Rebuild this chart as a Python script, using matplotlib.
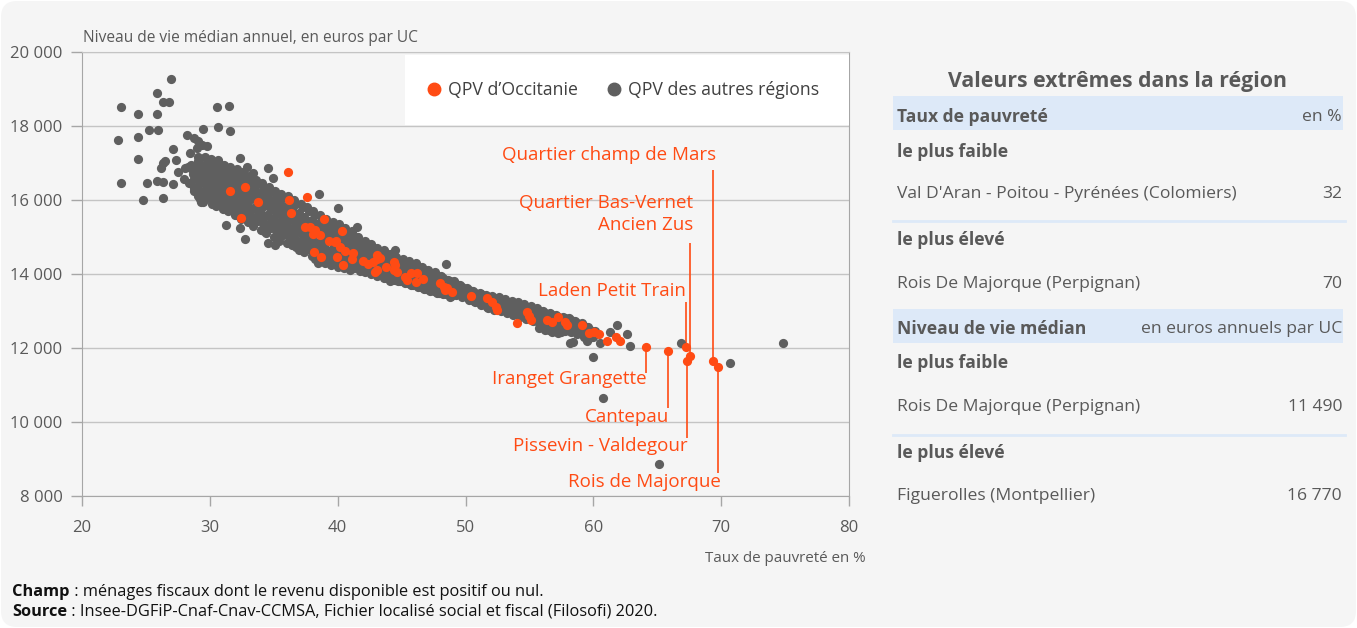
import matplotlib
matplotlib.use('Agg')
import matplotlib.pyplot as plt
from matplotlib.patches import FancyBboxPatch, Rectangle
from matplotlib.transforms import IdentityTransform
from matplotlib.lines import Line2D
from matplotlib.ticker import FuncFormatter

plt.rcParams['font.family'] = ['Open Sans', 'DejaVu Sans']

# QPV des autres regions (taux de pauvrete %, niveau de vie median)
gris = [
    # points isoles a gauche
    (23.05, 18520), (24.36, 18330), (22.84, 17620), (24.36, 17690), (24.36, 17100),
    (23.05, 16450), (24.75, 16000), (25.24, 17890), (25.97, 17890), (25.87, 18320),
    (25.87, 18900), (26.36, 18650), (26.78, 18650), (26.96, 19280), (25.06, 16460),
    (25.87, 16520), (26.36, 16480), (26.36, 16060), (27.14, 16430), (27.14, 17390),
    (27.35, 17080), (26.3, 17000), (26.5, 17050), (26.16, 16860), (27.49, 16770),
    (27.96, 16560), (28.19, 17760), (28.8, 17680), (29.1, 17600), (29.4, 17500),
    (29.75, 17450), (29.0, 17400), (29.47, 17910), (30.56, 18520), (31.47, 18550),
    (30.67, 17965), (31.55, 17860), (28.45, 17280), (29.1, 17170), (28.3, 16900),
    (28.6, 16830), (28.06, 16860), (30.67, 17080), (32.34, 17130), (32.94, 16890),
    (33.4, 16720), (34.55, 16860), (34.97, 16590), (38.57, 16150), (44.46, 14650),
    (40.06, 15780), (41.49, 15280), (31.29, 15320), (32.78, 14950), (32.36, 15230),
    (34.58, 14850), (35.1, 14780), (48.45, 14260), (58.2, 12140), (58.4, 12170),
    (60.0, 11770), (61.84, 12620), (62.6, 12370), (62.87, 12050), (61.3, 12420),
    (60.75, 10650), (60.5, 12140), (66.86, 12130), (70.7, 11585), (74.8, 12143),
    (65.1, 8864), (59.5, 12200),
    # nuage principal
    (28.5, 16950), (28.7, 16700), (28.4, 16450), (28.8, 16250),
    (29.1, 17050), (28.9, 16850), (29.2, 16600), (29.0, 16350), (29.1, 16100), (29.3, 15950),
    (29.6, 17150), (29.4, 16900), (29.7, 16700), (29.5, 16450), (29.6, 16200), (29.5, 15950),
    (30.1, 17100), (30.0, 16850), (30.2, 16600), (29.9, 16400), (30.1, 16150), (30.2, 15900),
    (30.6, 17000), (30.5, 16750), (30.7, 16500), (30.4, 16300), (30.6, 16050), (30.5, 15850),
    (31.1, 16950), (31.0, 16700), (31.2, 16450), (30.9, 16250), (31.1, 16000), (31.0, 15750),
    (31.6, 16900), (31.4, 16650), (31.7, 16400), (31.5, 16150), (31.6, 15900), (31.4, 15700),
    (32.1, 16850), (32.0, 16600), (32.2, 16350), (31.9, 16100), (32.1, 15850), (32.0, 15600),
    (32.6, 16750), (32.4, 16500), (32.7, 16250), (32.5, 16000), (32.6, 15750), (32.4, 15500),
    (33.1, 16650), (33.0, 16400), (33.2, 16150), (32.9, 15900), (33.1, 15650), (33.0, 15400),
    (33.6, 16550), (33.4, 16300), (33.7, 16050), (33.5, 15800), (33.6, 15550), (33.4, 15300),
    (34.1, 16450), (34.0, 16200), (34.2, 15950), (33.9, 15700), (34.1, 15450), (34.0, 15200),
    (34.6, 16350), (34.4, 16100), (34.7, 15850), (34.5, 15600), (34.6, 15350), (34.4, 15100),
    (35.1, 16250), (35.0, 16000), (35.2, 15750), (34.9, 15500), (35.1, 15250), (35.0, 15000),
    (35.6, 16150), (35.4, 15900), (35.7, 15650), (35.5, 15400), (35.6, 15150), (35.4, 14900),
    (36.1, 16100), (36.0, 15850), (36.2, 15600), (35.9, 15350), (36.1, 15100), (36.0, 14850),
    (36.6, 16000), (36.4, 15750), (36.7, 15500), (36.5, 15250), (36.6, 15000), (36.4, 14780),
    (37.1, 15900), (37.0, 15650), (37.2, 15400), (36.9, 15150), (37.1, 14900), (37.0, 14650),
    (37.6, 15800), (37.4, 15550), (37.7, 15300), (37.5, 15050), (37.6, 14800), (37.4, 14600),
    (38.1, 15700), (38.0, 15450), (38.2, 15200), (37.9, 14950), (38.1, 14700), (38.0, 14500),
    (38.6, 15600), (38.4, 15350), (38.7, 15100), (38.5, 14850), (38.6, 14600), (38.5, 14300),
    (39.1, 15500), (39.0, 15250), (39.2, 15000), (38.9, 14750), (39.1, 14500), (39.0, 14300),
    (39.6, 15400), (39.4, 15150), (39.7, 14900), (39.5, 14650), (39.6, 14400), (39.5, 14250),
    (40.1, 15350), (40.0, 15100), (40.2, 14850), (39.9, 14600), (40.1, 14400), (40.0, 14200),
    (40.6, 15250), (40.4, 15000), (40.7, 14750), (40.5, 14500), (40.6, 14300), (40.5, 14150),
    (41.1, 15150), (41.0, 14900), (41.2, 14650), (40.9, 14450), (41.1, 14250), (41.0, 14100),
    (41.6, 15000), (41.4, 14800), (41.7, 14550), (41.5, 14350), (41.6, 14150),
    (42.1, 14900), (42.0, 14700), (42.2, 14450), (41.9, 14250), (42.1, 14050),
    (42.6, 14800), (42.4, 14600), (42.7, 14400), (42.5, 14200), (42.6, 14000),
    (43.1, 14700), (43.0, 14500), (43.2, 14300), (42.9, 14100), (43.1, 13950),
    (43.6, 14650), (43.4, 14450), (43.7, 14250), (43.5, 14050), (43.6, 13900),
    (44.1, 14550), (44.0, 14350), (44.2, 14150), (43.9, 13950), (44.1, 13820),
    (44.6, 14450), (44.4, 14250), (44.7, 14050), (44.5, 13850),
    (45.1, 14400), (45.0, 14200), (45.2, 14000), (44.9, 13800),
    (45.6, 14350), (45.4, 14150), (45.7, 13950), (45.5, 13750),
    (46.1, 14300), (46.0, 14100), (46.2, 13900), (45.9, 13700),
    (46.6, 14200), (46.4, 14000), (46.7, 13800), (46.5, 13650),
    (47.1, 14100), (47.0, 13900), (47.2, 13750), (46.9, 13600),
    (47.6, 14050), (47.4, 13850), (47.7, 13700), (47.5, 13550),
    (48.1, 13950), (48.0, 13800), (48.2, 13650), (47.9, 13500),
    (48.6, 13850), (48.4, 13700), (48.7, 13550), (48.5, 13450),
    (49.1, 13800), (49.0, 13650), (49.2, 13500), (48.9, 13400),
    (49.6, 13700), (49.4, 13550), (49.7, 13420),
    (50.1, 13620), (50.0, 13480), (50.2, 13350),
    (50.6, 13550), (50.4, 13400), (50.7, 13280),
    (51.1, 13480), (51.0, 13330), (51.2, 13200),
    (51.6, 13420), (51.4, 13280), (51.7, 13120),
    (52.1, 13400), (52.0, 13250), (52.2, 13100),
    (52.6, 13380), (52.4, 13220), (52.7, 13050),
    (53.1, 13330), (53.0, 13180), (53.2, 13020),
    (53.6, 13280), (53.4, 13130), (53.7, 12970),
    (54.1, 13230), (54.0, 13080), (54.2, 12920),
    (54.6, 13180), (54.4, 13030), (54.7, 12870),
    (55.1, 13130), (55.0, 12980), (55.2, 12820),
    (55.6, 13080), (55.4, 12930), (55.7, 12770),
    (56.1, 13000), (56.0, 12860), (56.2, 12710), (55.9, 12560),
    (56.6, 12950), (56.4, 12800), (56.7, 12650), (56.5, 12500),
    (57.1, 12900), (57.0, 12750), (57.2, 12600), (56.9, 12450),
    (57.6, 12850), (57.4, 12700), (57.7, 12550), (57.5, 12420),
    (58.1, 12800), (58.0, 12650), (58.2, 12500),
    (58.6, 12740), (58.4, 12590), (58.7, 12440),
    (59.1, 12680), (59.0, 12530), (59.2, 12380),
    (59.6, 12570), (59.4, 12420), (59.7, 12270),
    (60.1, 12460), (60.0, 12310),
]

# points intercales du nuage, par colonne de taux de pauvrete
gris_colonnes = {
    28.75: [16820, 16580, 16330],
    29.25: [16980, 16750, 16500, 16250, 16030],
    29.75: [17000, 16780, 16550, 16300, 16060],
    30.25: [16950, 16720, 16480, 16250, 16020],
    30.75: [16880, 16620, 16380, 16150, 15930],
    31.25: [16820, 16570, 16320, 16100, 15850],
    31.75: [16760, 16520, 16270, 16020, 15780],
    32.25: [16700, 16450, 16200, 15950, 15720, 15580],
    32.75: [16600, 16350, 16120, 15870, 15620],
    33.25: [16500, 16270, 16020, 15770, 15520],
    33.75: [16420, 16180, 15930, 15680, 15420],
    34.25: [16320, 16080, 15830, 15580, 15330, 15150],
    34.75: [16220, 15980, 15730, 15480, 15230],
    35.25: [16120, 15880, 15630, 15380, 15130, 14950],
    35.75: [16050, 15800, 15550, 15300, 15050],
    36.25: [15980, 15720, 15470, 15220, 14970],
    36.75: [15900, 15630, 15380, 15130, 14880, 14720],
    37.25: [15800, 15530, 15280, 15030, 14780],
    37.75: [15700, 15430, 15180, 14930, 14680],
    38.25: [15600, 15330, 15080, 14830, 14580, 14400],
    38.75: [15500, 15230, 14980, 14730, 14480],
    39.25: [15400, 15130, 14880, 14630, 14400],
    39.75: [15300, 15030, 14780, 14530, 14320],
    40.25: [15220, 14950, 14700, 14470, 14280],
    40.75: [15120, 14870, 14620, 14380, 14200],
    41.25: [15020, 14770, 14530, 14300, 14150],
    41.75: [14900, 14680, 14450, 14220, 14080],
    42.25: [14800, 14580, 14350, 14130],
    42.75: [14700, 14480, 14250, 14050],
    43.25: [14620, 14400, 14180, 13980],
    43.75: [14550, 14330, 14100, 13900],
    44.25: [14450, 14250, 14030, 13850],
    44.75: [14380, 14150, 13950, 13800],
    45.25: [14300, 14100, 13900, 13750],
    45.75: [14250, 14050, 13850, 13700],
    46.25: [14180, 13980, 13780, 13650],
    46.75: [14100, 13900, 13720, 13600],
    47.25: [14020, 13820, 13650, 13550],
    47.75: [13950, 13750, 13600, 13480],
    48.25: [13880, 13700, 13550, 13450],
    48.75: [13800, 13620, 13480, 13380],
    49.25: [13720, 13570, 13420],
    49.75: [13650, 13500, 13370],
    50.25: [13580, 13430, 13300],
    50.75: [13500, 13360, 13230],
    51.25: [13450, 13300, 13160],
    51.75: [13390, 13240, 13090],
    52.25: [13350, 13180, 13040],
    52.75: [13300, 13130, 12990],
    53.25: [13250, 13080, 12940],
    53.75: [13200, 13030, 12890],
    54.25: [13150, 12980, 12840],
    54.75: [13100, 12930, 12790],
    55.25: [13050, 12880, 12740],
    55.75: [13000, 12830, 12680, 12550],
    56.25: [12950, 12780, 12620, 12480],
    56.75: [12900, 12730, 12570, 12420],
    57.25: [12850, 12680, 12520, 12400],
    57.75: [12800, 12630, 12470],
    58.25: [12750, 12580, 12420],
    58.75: [12680, 12520, 12370],
    59.25: [12600, 12450, 12300],
    59.75: [12500, 12350],
}

# QPV d'Occitanie
occitanie = [
    (31.6, 16240), (32.75, 16340), (33.75, 15940), (32.4, 15520), (36.1, 16770),
    (36.2, 16010), (36.35, 15660), (37.6, 16070), (38.95, 15480), (37.45, 15270),
    (37.85, 15260), (38.25, 15190), (38.1, 15070), (38.6, 15050), (40.3, 15160),
    (39.3, 14880), (39.9, 14900), (39.8, 14870), (40.2, 14740), (40.6, 14620),
    (38.15, 14590), (38.7, 14460), (39.95, 14450), (40.4, 14240), (41.2, 14560),
    (41.1, 14400), (42.0, 14360), (42.4, 14270), (42.8, 14330), (43.1, 14510),
    (43.05, 14400), (43.3, 14440), (42.95, 14060), (43.1, 14110), (43.8, 14200),
    (44.4, 14330), (44.5, 14240), (44.4, 14100), (44.65, 14060), (45.3, 13930),
    (45.7, 14020), (46.2, 14020), (46.1, 13790), (46.7, 13860), (45.4, 13840),
    (48.0, 13750), (48.3, 13660), (48.4, 13560), (48.55, 13610), (48.95, 13520),
    (50.4, 13410), (51.65, 13340), (52.1, 13250), (52.35, 13120), (52.5, 13040),
    (54.0, 12670), (54.8, 12980), (55.0, 12870), (55.1, 12760), (56.4, 12760),
    (56.8, 12710), (57.2, 12830), (57.8, 12710), (57.95, 12620), (59.1, 12620),
    (59.65, 12400), (60.05, 12440), (60.45, 12380), (61.1, 12180), (61.75, 12290),
    (62.1, 12190),
]

# QPV nommes sur le graphique
noms = ['Quartier champ de Mars', 'Quartier Bas-Vernet\nAncien Zus', 'Laden Petit Train',
        'Iranget Grangette', 'Cantepau', 'Pissevin - Valdegour', 'Rois de Majorque']
noms_x = [69.4, 67.6, 67.25, 64.14, 65.86, 67.35, 69.75]
noms_y = [11650, 11790, 12030, 12030, 11910, 11660, 11490]

# placement des etiquettes : fin du trait, x droite du texte, y du texte
etiq_fin = [16810, 14840, 13250, 11315, 10370, 9560, 8630]
etiq_x = [69.6, 67.8, 67.25, 64.18, 65.94, 67.35, 69.96]
etiq_y = [17216, 15616, 13548, 11153, 10142, 9350, 8385]

# tableau de droite
tableau = [
    ('Taux de pauvreté', 'en %', True, 117),
    ('le plus faible', '', False, 152),
    ("Val D'Aran - Poitou - Pyrénées (Colomiers)", '32', None, 194),
    ('le plus élevé', '', False, 240),
    ('Rois De Majorque (Perpignan)', '70', None, 284),
    ('Niveau de vie médian', 'en euros annuels par UC', True, 329),
    ('le plus faible', '', False, 363),
    ('Rois De Majorque (Perpignan)', '11 490', None, 407),
    ('le plus élevé', '', False, 453),
    ('Figuerolles (Montpellier)', '16 770', None, 496),
]

ORANGE = '#ff4b14'
GRIS = '#5f5f5f'
TXT = '#595959'
W, H = 1357, 628

def fx(px):
    return px / W

def fy(py):
    return 1 - py / H

fig = plt.figure(figsize=(W / 100, H / 100), dpi=100, facecolor='white')
fig.patches.append(FancyBboxPatch((1, 1), W - 2, H - 2, boxstyle='round,pad=0,rounding_size=16',
                                  transform=IdentityTransform(), facecolor='#f5f5f5',
                                  edgecolor='none', zorder=-10))

ax = fig.add_axes([fx(82), fy(496), fx(849 - 82), (496 - 52) / H])
ax.set_facecolor('none')

gx = [p[0] for p in gris]
gy = [p[1] for p in gris]
for x, ys in gris_colonnes.items():
    gx += [x] * len(ys)
    gy += ys
ox = [p[0] for p in occitanie] + noms_x
oy = [p[1] for p in occitanie] + noms_y

ax.scatter(gx, gy, s=44, color=GRIS, linewidths=0, zorder=3)
ax.scatter(ox, oy, s=44, color=ORANGE, linewidths=0, zorder=4)

# etiquettes des QPV extremes
for nom, x, y, fin, tx, ty in zip(noms, noms_x, noms_y, etiq_fin, etiq_x, etiq_y):
    ax.plot([x, x], [y, fin], color=ORANGE, lw=1.2, zorder=2, solid_capstyle='butt')
    ax.text(tx, ty, nom, color=ORANGE, fontsize=13.5, ha='right', va='center',
            multialignment='right', linespacing=1.3, zorder=5)

ax.set_xlim(20, 80)
ax.set_ylim(8000, 20000)
ax.set_xticks([20, 30, 40, 50, 60, 70, 80])
ax.set_yticks(range(8000, 20001, 2000))
ax.yaxis.set_major_formatter(FuncFormatter(lambda v, p: f'{int(v):,}'.replace(',', ' ')))
ax.grid(axis='y', color='#c4c4c4', lw=1, zorder=0)
ax.set_axisbelow(True)
for s in ['left', 'bottom', 'right']:
    ax.spines[s].set_color('#a6a6a6')
ax.spines['top'].set_color('#c4c4c4')
ax.tick_params(axis='x', length=7, width=1, color='#a6a6a6', pad=10, labelsize=12, labelcolor=TXT)
ax.tick_params(axis='y', length=8, width=1, color='#a6a6a6', pad=6, labelsize=12, labelcolor=TXT)

# legende sur fond blanc
ax.add_patch(Rectangle((0.421, 0.836), 0.579, 0.157, transform=ax.transAxes,
                       facecolor='white', edgecolor='none', zorder=6))
poignees = [Line2D([], [], marker='o', ls='none', color=ORANGE, markersize=9),
            Line2D([], [], marker='o', ls='none', color=GRIS, markersize=9)]
leg = ax.legend(poignees, ["QPV d\u2019Occitanie", 'QPV des autres régions'], ncol=2,
                loc='center', bbox_to_anchor=(0.703, 0.914), frameon=False, fontsize=12.7,
                handletextpad=0.2, columnspacing=1.4, handlelength=1.2, labelcolor='#404040')
leg.set_zorder(7)

fig.text(fx(83), fy(38), 'Niveau de vie médian annuel, en euros par UC', fontsize=11.2,
         color=TXT, va='center', ha='left')
fig.text(fx(866), fy(558), 'Taux de pauvreté en %', fontsize=10.9, color=TXT,
         va='center', ha='right')

# tableau des valeurs extremes
fig.text(fx(1118), fy(81), 'Valeurs extrêmes dans la région', fontsize=15.3,
         fontweight='bold', color=TXT, ha='center', va='center')
for y0, y1 in [(96, 130), (309, 343)]:
    fig.patches.append(Rectangle((fx(893), fy(y1)), fx(1343 - 893), (y1 - y0) / H,
                                 transform=fig.transFigure, facecolor='#dde9f8',
                                 edgecolor='none', zorder=-5))
for ys in [220.5, 435]:
    fig.add_artist(Line2D([fx(893), fx(1345)], [fy(ys), fy(ys)], color='#dde9f8', lw=2))
for gauche, droite, entete, py in tableau:
    gras = entete is not None
    fig.text(fx(897), fy(py), gauche, fontsize=12.6, color=TXT, va='center', ha='left',
             fontweight='bold' if gras else 'normal')
    if droite:
        fig.text(fx(1342), fy(py), droite, fontsize=12.6, color=TXT, va='center', ha='right')

# notes de bas de page
rend = fig.canvas.get_renderer()
for py, gras, reste in [(592, 'Champ', ' : ménages fiscaux dont le revenu disponible est positif ou nul.'),
                        (612, 'Source', ' : Insee-DGFiP-Cnaf-Cnav-CCMSA, Fichier localisé social et fiscal (Filosofi) 2020.')]:
    t = fig.text(fx(12), fy(py), gras, fontsize=11.8, fontweight='bold', color='#111111',
                 va='center', ha='left')
    bb = t.get_window_extent(rend)
    fig.text(bb.x1 / W, fy(py), reste, fontsize=11.8, color='#111111', va='center', ha='left')

fig.savefig('out.png', dpi=100, facecolor='white')
